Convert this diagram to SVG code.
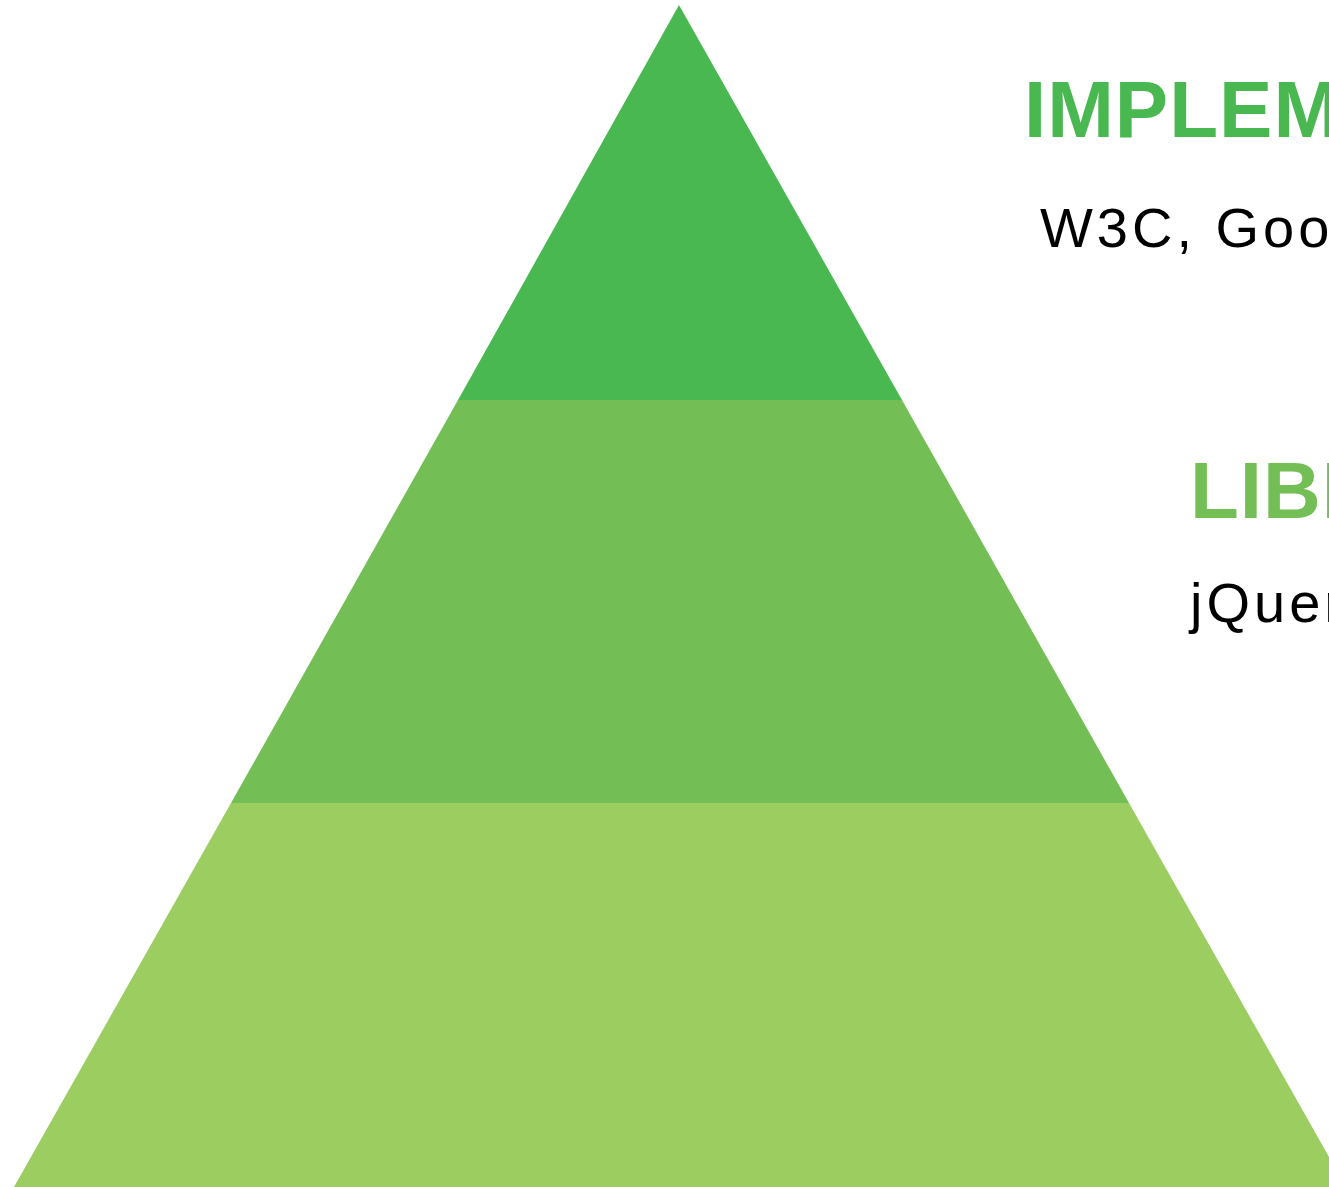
<svg xmlns="http://www.w3.org/2000/svg" width="1329" height="1187" viewBox="0 0 1329 1187">
<style>
.h{font-family:"Liberation Sans",Arial,sans-serif;font-weight:bold;font-size:80px;letter-spacing:1px}
.s{font-family:"Liberation Sans",Arial,sans-serif;font-size:56px;letter-spacing:4px;fill:#000}
</style>
<rect width="1329" height="1187" fill="#ffffff"/>
<g id="layer-top">
<polygon points="679,5 902,400 458,400" fill="#4ab851"/>
</g>
<g id="layer-middle">
<polygon points="458,400 902,400 1129,803 231,803" fill="#73bf55"/>
</g>
<g id="layer-bottom">
<polygon points="231,803 1129,803 1346,1187 14,1187" fill="#9bcd61"/>
</g>
<g id="label-implementations">
<text class="h" x="1024" y="137" fill="#4ab851">IMPLEMENTATIONS</text>
<text class="s" x="1040" y="247">W3C, Google</text>
</g>
<g id="label-libraries">
<text class="h" x="1190" y="518" fill="#73bf55">LIBRARIES</text>
<text class="s" x="1190" y="622">jQuery</text>
</g>
<g id="connectors"></g>
</svg>
